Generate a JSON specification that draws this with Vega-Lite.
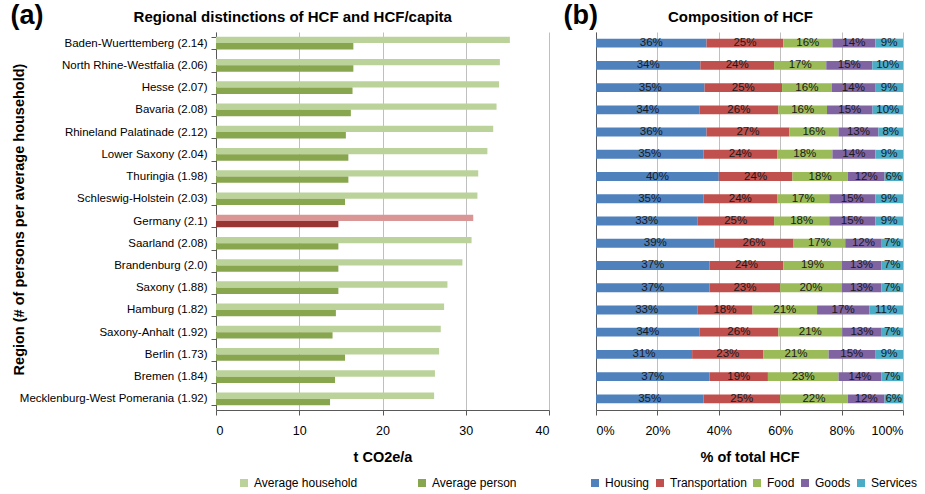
{
  "$schema": "https://vega.github.io/schema/vega-lite/v6.json",
  "background": "white",
  "padding": {"left": 10, "top": 1, "right": 2, "bottom": 2},
  "config": {
    "view": {"stroke": null},
    "font": "Liberation Sans",
    "axis": {"labelFont": "Liberation Sans", "titleFont": "Liberation Sans"},
    "legend": {"labelFont": "Liberation Sans"},
    "title": {"font": "Liberation Sans"}
  },
  "datasets": {
    "footprint": [
      {"region": "Baden-Wuerttemberg (2.14)", "type": "Average household", "value": 35.3},
      {"region": "Baden-Wuerttemberg (2.14)", "type": "Average person", "value": 16.5},
      {"region": "North Rhine-Westfalia (2.06)", "type": "Average household", "value": 34.1},
      {"region": "North Rhine-Westfalia (2.06)", "type": "Average person", "value": 16.5},
      {"region": "Hesse (2.07)", "type": "Average household", "value": 34.0},
      {"region": "Hesse (2.07)", "type": "Average person", "value": 16.4},
      {"region": "Bavaria (2.08)", "type": "Average household", "value": 33.7},
      {"region": "Bavaria (2.08)", "type": "Average person", "value": 16.2},
      {"region": "Rhineland Palatinade (2.12)", "type": "Average household", "value": 33.3},
      {"region": "Rhineland Palatinade (2.12)", "type": "Average person", "value": 15.6},
      {"region": "Lower Saxony (2.04)", "type": "Average household", "value": 32.6},
      {"region": "Lower Saxony (2.04)", "type": "Average person", "value": 15.9},
      {"region": "Thuringia (1.98)", "type": "Average household", "value": 31.5},
      {"region": "Thuringia (1.98)", "type": "Average person", "value": 15.9},
      {"region": "Schleswig-Holstein (2.03)", "type": "Average household", "value": 31.4},
      {"region": "Schleswig-Holstein (2.03)", "type": "Average person", "value": 15.5},
      {"region": "Germany (2.1)", "type": "Average household", "value": 30.9},
      {"region": "Germany (2.1)", "type": "Average person", "value": 14.7},
      {"region": "Saarland (2.08)", "type": "Average household", "value": 30.7},
      {"region": "Saarland (2.08)", "type": "Average person", "value": 14.7},
      {"region": "Brandenburg (2.0)", "type": "Average household", "value": 29.6},
      {"region": "Brandenburg (2.0)", "type": "Average person", "value": 14.7},
      {"region": "Saxony (1.88)", "type": "Average household", "value": 27.8},
      {"region": "Saxony (1.88)", "type": "Average person", "value": 14.7},
      {"region": "Hamburg (1.82)", "type": "Average household", "value": 27.4},
      {"region": "Hamburg (1.82)", "type": "Average person", "value": 14.4},
      {"region": "Saxony-Anhalt (1.92)", "type": "Average household", "value": 27.0},
      {"region": "Saxony-Anhalt (1.92)", "type": "Average person", "value": 14.0},
      {"region": "Berlin (1.73)", "type": "Average household", "value": 26.8},
      {"region": "Berlin (1.73)", "type": "Average person", "value": 15.5},
      {"region": "Bremen (1.84)", "type": "Average household", "value": 26.3},
      {"region": "Bremen (1.84)", "type": "Average person", "value": 14.3},
      {"region": "Mecklenburg-West Pomerania (1.92)", "type": "Average household", "value": 26.2},
      {"region": "Mecklenburg-West Pomerania (1.92)", "type": "Average person", "value": 13.7}
    ],
    "composition": [
      {"region": "Baden-Wuerttemberg (2.14)", "cat": "Housing", "k": 1, "pct": 0.36},
      {"region": "Baden-Wuerttemberg (2.14)", "cat": "Transportation", "k": 2, "pct": 0.25},
      {"region": "Baden-Wuerttemberg (2.14)", "cat": "Food", "k": 3, "pct": 0.16},
      {"region": "Baden-Wuerttemberg (2.14)", "cat": "Goods", "k": 4, "pct": 0.14},
      {"region": "Baden-Wuerttemberg (2.14)", "cat": "Services", "k": 5, "pct": 0.09},
      {"region": "North Rhine-Westfalia (2.06)", "cat": "Housing", "k": 1, "pct": 0.34},
      {"region": "North Rhine-Westfalia (2.06)", "cat": "Transportation", "k": 2, "pct": 0.24},
      {"region": "North Rhine-Westfalia (2.06)", "cat": "Food", "k": 3, "pct": 0.17},
      {"region": "North Rhine-Westfalia (2.06)", "cat": "Goods", "k": 4, "pct": 0.15},
      {"region": "North Rhine-Westfalia (2.06)", "cat": "Services", "k": 5, "pct": 0.10},
      {"region": "Hesse (2.07)", "cat": "Housing", "k": 1, "pct": 0.35},
      {"region": "Hesse (2.07)", "cat": "Transportation", "k": 2, "pct": 0.25},
      {"region": "Hesse (2.07)", "cat": "Food", "k": 3, "pct": 0.16},
      {"region": "Hesse (2.07)", "cat": "Goods", "k": 4, "pct": 0.14},
      {"region": "Hesse (2.07)", "cat": "Services", "k": 5, "pct": 0.09},
      {"region": "Bavaria (2.08)", "cat": "Housing", "k": 1, "pct": 0.34},
      {"region": "Bavaria (2.08)", "cat": "Transportation", "k": 2, "pct": 0.26},
      {"region": "Bavaria (2.08)", "cat": "Food", "k": 3, "pct": 0.16},
      {"region": "Bavaria (2.08)", "cat": "Goods", "k": 4, "pct": 0.15},
      {"region": "Bavaria (2.08)", "cat": "Services", "k": 5, "pct": 0.10},
      {"region": "Rhineland Palatinade (2.12)", "cat": "Housing", "k": 1, "pct": 0.36},
      {"region": "Rhineland Palatinade (2.12)", "cat": "Transportation", "k": 2, "pct": 0.27},
      {"region": "Rhineland Palatinade (2.12)", "cat": "Food", "k": 3, "pct": 0.16},
      {"region": "Rhineland Palatinade (2.12)", "cat": "Goods", "k": 4, "pct": 0.13},
      {"region": "Rhineland Palatinade (2.12)", "cat": "Services", "k": 5, "pct": 0.08},
      {"region": "Lower Saxony (2.04)", "cat": "Housing", "k": 1, "pct": 0.35},
      {"region": "Lower Saxony (2.04)", "cat": "Transportation", "k": 2, "pct": 0.24},
      {"region": "Lower Saxony (2.04)", "cat": "Food", "k": 3, "pct": 0.18},
      {"region": "Lower Saxony (2.04)", "cat": "Goods", "k": 4, "pct": 0.14},
      {"region": "Lower Saxony (2.04)", "cat": "Services", "k": 5, "pct": 0.09},
      {"region": "Thuringia (1.98)", "cat": "Housing", "k": 1, "pct": 0.40},
      {"region": "Thuringia (1.98)", "cat": "Transportation", "k": 2, "pct": 0.24},
      {"region": "Thuringia (1.98)", "cat": "Food", "k": 3, "pct": 0.18},
      {"region": "Thuringia (1.98)", "cat": "Goods", "k": 4, "pct": 0.12},
      {"region": "Thuringia (1.98)", "cat": "Services", "k": 5, "pct": 0.06},
      {"region": "Schleswig-Holstein (2.03)", "cat": "Housing", "k": 1, "pct": 0.35},
      {"region": "Schleswig-Holstein (2.03)", "cat": "Transportation", "k": 2, "pct": 0.24},
      {"region": "Schleswig-Holstein (2.03)", "cat": "Food", "k": 3, "pct": 0.17},
      {"region": "Schleswig-Holstein (2.03)", "cat": "Goods", "k": 4, "pct": 0.15},
      {"region": "Schleswig-Holstein (2.03)", "cat": "Services", "k": 5, "pct": 0.09},
      {"region": "Germany (2.1)", "cat": "Housing", "k": 1, "pct": 0.33},
      {"region": "Germany (2.1)", "cat": "Transportation", "k": 2, "pct": 0.25},
      {"region": "Germany (2.1)", "cat": "Food", "k": 3, "pct": 0.18},
      {"region": "Germany (2.1)", "cat": "Goods", "k": 4, "pct": 0.15},
      {"region": "Germany (2.1)", "cat": "Services", "k": 5, "pct": 0.09},
      {"region": "Saarland (2.08)", "cat": "Housing", "k": 1, "pct": 0.39},
      {"region": "Saarland (2.08)", "cat": "Transportation", "k": 2, "pct": 0.26},
      {"region": "Saarland (2.08)", "cat": "Food", "k": 3, "pct": 0.17},
      {"region": "Saarland (2.08)", "cat": "Goods", "k": 4, "pct": 0.12},
      {"region": "Saarland (2.08)", "cat": "Services", "k": 5, "pct": 0.07},
      {"region": "Brandenburg (2.0)", "cat": "Housing", "k": 1, "pct": 0.37},
      {"region": "Brandenburg (2.0)", "cat": "Transportation", "k": 2, "pct": 0.24},
      {"region": "Brandenburg (2.0)", "cat": "Food", "k": 3, "pct": 0.19},
      {"region": "Brandenburg (2.0)", "cat": "Goods", "k": 4, "pct": 0.13},
      {"region": "Brandenburg (2.0)", "cat": "Services", "k": 5, "pct": 0.07},
      {"region": "Saxony (1.88)", "cat": "Housing", "k": 1, "pct": 0.37},
      {"region": "Saxony (1.88)", "cat": "Transportation", "k": 2, "pct": 0.23},
      {"region": "Saxony (1.88)", "cat": "Food", "k": 3, "pct": 0.20},
      {"region": "Saxony (1.88)", "cat": "Goods", "k": 4, "pct": 0.13},
      {"region": "Saxony (1.88)", "cat": "Services", "k": 5, "pct": 0.07},
      {"region": "Hamburg (1.82)", "cat": "Housing", "k": 1, "pct": 0.33},
      {"region": "Hamburg (1.82)", "cat": "Transportation", "k": 2, "pct": 0.18},
      {"region": "Hamburg (1.82)", "cat": "Food", "k": 3, "pct": 0.21},
      {"region": "Hamburg (1.82)", "cat": "Goods", "k": 4, "pct": 0.17},
      {"region": "Hamburg (1.82)", "cat": "Services", "k": 5, "pct": 0.11},
      {"region": "Saxony-Anhalt (1.92)", "cat": "Housing", "k": 1, "pct": 0.34},
      {"region": "Saxony-Anhalt (1.92)", "cat": "Transportation", "k": 2, "pct": 0.26},
      {"region": "Saxony-Anhalt (1.92)", "cat": "Food", "k": 3, "pct": 0.21},
      {"region": "Saxony-Anhalt (1.92)", "cat": "Goods", "k": 4, "pct": 0.13},
      {"region": "Saxony-Anhalt (1.92)", "cat": "Services", "k": 5, "pct": 0.07},
      {"region": "Berlin (1.73)", "cat": "Housing", "k": 1, "pct": 0.31},
      {"region": "Berlin (1.73)", "cat": "Transportation", "k": 2, "pct": 0.23},
      {"region": "Berlin (1.73)", "cat": "Food", "k": 3, "pct": 0.21},
      {"region": "Berlin (1.73)", "cat": "Goods", "k": 4, "pct": 0.15},
      {"region": "Berlin (1.73)", "cat": "Services", "k": 5, "pct": 0.09},
      {"region": "Bremen (1.84)", "cat": "Housing", "k": 1, "pct": 0.37},
      {"region": "Bremen (1.84)", "cat": "Transportation", "k": 2, "pct": 0.19},
      {"region": "Bremen (1.84)", "cat": "Food", "k": 3, "pct": 0.23},
      {"region": "Bremen (1.84)", "cat": "Goods", "k": 4, "pct": 0.14},
      {"region": "Bremen (1.84)", "cat": "Services", "k": 5, "pct": 0.07},
      {"region": "Mecklenburg-West Pomerania (1.92)", "cat": "Housing", "k": 1, "pct": 0.35},
      {"region": "Mecklenburg-West Pomerania (1.92)", "cat": "Transportation", "k": 2, "pct": 0.25},
      {"region": "Mecklenburg-West Pomerania (1.92)", "cat": "Food", "k": 3, "pct": 0.22},
      {"region": "Mecklenburg-West Pomerania (1.92)", "cat": "Goods", "k": 4, "pct": 0.12},
      {"region": "Mecklenburg-West Pomerania (1.92)", "cat": "Services", "k": 5, "pct": 0.06}
    ]
  },
  "bounds": "flush",
  "spacing": 47,
  "resolve": {"scale": {"color": "independent"}, "legend": {"color": "independent"}},
  "hconcat": [
    {
      "width": 333,
      "height": 378,
      "data": {"name": "footprint"},
      "title": {"text": "Regional distinctions of HCF and HCF/capita", "frame": "bounds", "anchor": "middle", "fontSize": 15, "fontWeight": "bold", "color": "#000000", "baseline": "alphabetic", "offset": -16, "dy": 20, "dx": 13},
      "layer": [
        {
          "mark": {"type": "bar"},
          "encoding": {
            "y": {"field": "region", "type": "nominal",
              "sort": ["Baden-Wuerttemberg (2.14)", "North Rhine-Westfalia (2.06)", "Hesse (2.07)", "Bavaria (2.08)", "Rhineland Palatinade (2.12)", "Lower Saxony (2.04)", "Thuringia (1.98)", "Schleswig-Holstein (2.03)", "Germany (2.1)", "Saarland (2.08)", "Brandenburg (2.0)", "Saxony (1.88)", "Hamburg (1.82)", "Saxony-Anhalt (1.92)", "Berlin (1.73)", "Bremen (1.84)", "Mecklenburg-West Pomerania (1.92)"],
              "scale": {"paddingInner": 0.43, "paddingOuter": 0.215},
              "axis": {"title": "Region (# of persons per average household)", "tickBand": "extent", "tickSize": 5, "tickColor": "#595959", "domainColor": "#595959", "labelFontSize": 11.5, "labelColor": "#000000", "labelPadding": 4, "labelLimit": 300, "titleFontSize": 14.5, "titleFontWeight": "bold", "titleColor": "#000000", "titleBaseline": "middle", "titleX": -197, "titleY": 187}},
            "yOffset": {"field": "type", "type": "nominal", "sort": ["Average household", "Average person"]},
            "x": {"field": "value", "type": "quantitative", "scale": {"domain": [0, 40]},
              "axis": {"title": "t CO2e/a", "values": [0, 10, 20, 30, 40], "grid": true, "gridColor": "#BFBFBF", "domainColor": "#595959", "tickColor": "#595959", "tickSize": 5, "labelFontSize": 12.5, "labelColor": "#000000", "labelPadding": 9, "titleFontSize": 14.5, "titleFontWeight": "bold", "titleColor": "#000000", "titlePadding": 14}},
            "color": {"field": "type", "type": "nominal",
              "scale": {"domain": ["Average household", "Average person"], "range": ["#BBD39A", "#88A64E"]},
              "condition": [
                {"test": "datum.region === 'Germany (2.1)' && datum.type === 'Average household'", "value": "#DA9694"},
                {"test": "datum.region === 'Germany (2.1)' && datum.type === 'Average person'", "value": "#983634"}
              ],
              "legend": {"orient": "none", "legendX": 22, "legendY": 445, "direction": "horizontal", "title": null, "symbolType": "square", "symbolSize": 64, "symbolStrokeWidth": 0, "labelFontSize": 12, "labelColor": "#000000", "labelOffset": 4, "columnPadding": 58, "padding": 0}}
          }
        },
        {
          "mark": {"type": "bar", "opacity": 0},
          "encoding": {
            "y": {"field": "region", "type": "nominal",
              "sort": ["Baden-Wuerttemberg (2.14)", "North Rhine-Westfalia (2.06)", "Hesse (2.07)", "Bavaria (2.08)", "Rhineland Palatinade (2.12)", "Lower Saxony (2.04)", "Thuringia (1.98)", "Schleswig-Holstein (2.03)", "Germany (2.1)", "Saarland (2.08)", "Brandenburg (2.0)", "Saxony (1.88)", "Hamburg (1.82)", "Saxony-Anhalt (1.92)", "Berlin (1.73)", "Bremen (1.84)", "Mecklenburg-West Pomerania (1.92)"]},
            "yOffset": {"field": "type", "type": "nominal", "sort": ["Average household", "Average person"]},
            "x": {"field": "value", "type": "quantitative",
              "axis": {"orient": "top", "title": "(a)", "labels": false, "ticks": false, "domain": false, "grid": false, "titleX": -206, "titleY": -9, "titleAlign": "left", "titleBaseline": "alphabetic", "titleFontSize": 27, "titleFontWeight": "bold", "titleColor": "#000000"}}
          }
        }
      ],
      "resolve": {"axis": {"x": "independent"}}
    },
    {
      "width": 307,
      "height": 378,
      "data": {"name": "composition"},
      "title": {"text": "Composition of HCF", "frame": "bounds", "anchor": "middle", "fontSize": 15, "fontWeight": "bold", "color": "#000000", "baseline": "alphabetic", "offset": -16, "dy": 20, "dx": 0},
      "transform": [
        {"stack": "pct", "groupby": ["region"], "sort": [{"field": "k", "order": "ascending"}], "offset": "normalize", "as": ["p0", "p1"]}
      ],
      "layer": [
        {
          "mark": {"type": "bar"},
          "encoding": {
            "y": {"field": "region", "type": "nominal",
              "sort": ["Baden-Wuerttemberg (2.14)", "North Rhine-Westfalia (2.06)", "Hesse (2.07)", "Bavaria (2.08)", "Rhineland Palatinade (2.12)", "Lower Saxony (2.04)", "Thuringia (1.98)", "Schleswig-Holstein (2.03)", "Germany (2.1)", "Saarland (2.08)", "Brandenburg (2.0)", "Saxony (1.88)", "Hamburg (1.82)", "Saxony-Anhalt (1.92)", "Berlin (1.73)", "Bremen (1.84)", "Mecklenburg-West Pomerania (1.92)"],
              "scale": {"paddingInner": 0.6, "paddingOuter": 0.3},
              "axis": {"title": null, "labels": false, "ticks": false, "domainColor": "#595959"}},
            "x": {"field": "p0", "type": "quantitative", "scale": {"domain": [0, 1]},
              "axis": {"title": "% of total HCF", "values": [0, 0.2, 0.4, 0.6, 0.8, 1], "format": ".0%", "grid": true, "gridColor": "#BFBFBF", "domainColor": "#595959", "tickColor": "#595959", "tickSize": 5, "labelFontSize": 12.5, "labelColor": "#000000", "labelPadding": 9, "titleFontSize": 14.5, "titleFontWeight": "bold", "titleColor": "#000000", "titlePadding": 14}},
            "x2": {"field": "p1"},
            "color": {"field": "cat", "type": "nominal",
              "scale": {"domain": ["Housing", "Transportation", "Food", "Goods", "Services"], "range": ["#4F81BD", "#C0504D", "#9BBB59", "#8064A2", "#4BACC6"]},
              "legend": {"orient": "none", "legendX": -7, "legendY": 445, "direction": "horizontal", "title": null, "symbolType": "square", "symbolSize": 64, "symbolStrokeWidth": 0, "labelFontSize": 12, "labelColor": "#000000", "labelOffset": 4, "columnPadding": 4, "padding": 0}}
          }
        },
        {
          "transform": [
            {"fold": ["p0", "p1"], "as": ["edge", "pos"]},
            {"aggregate": [{"op": "mean", "field": "pos", "as": "mid"}], "groupby": ["region", "cat", "pct"]}
          ],
          "mark": {"type": "text", "align": "center", "baseline": "middle", "fontSize": 11.5, "color": "#1A1A1A"},
          "encoding": {
            "y": {"field": "region", "type": "nominal",
              "sort": ["Baden-Wuerttemberg (2.14)", "North Rhine-Westfalia (2.06)", "Hesse (2.07)", "Bavaria (2.08)", "Rhineland Palatinade (2.12)", "Lower Saxony (2.04)", "Thuringia (1.98)", "Schleswig-Holstein (2.03)", "Germany (2.1)", "Saarland (2.08)", "Brandenburg (2.0)", "Saxony (1.88)", "Hamburg (1.82)", "Saxony-Anhalt (1.92)", "Berlin (1.73)", "Bremen (1.84)", "Mecklenburg-West Pomerania (1.92)"]},
            "x": {"field": "mid", "type": "quantitative",
              "axis": {"orient": "top", "title": "(b)", "labels": false, "ticks": false, "domain": false, "grid": false, "titleX": -33, "titleY": -9, "titleAlign": "left", "titleBaseline": "alphabetic", "titleFontSize": 27, "titleFontWeight": "bold", "titleColor": "#000000"}},
            "text": {"field": "pct", "type": "quantitative", "format": ".0%"}
          }
        }
      ],
      "resolve": {"axis": {"x": "independent"}}
    }
  ]
}
